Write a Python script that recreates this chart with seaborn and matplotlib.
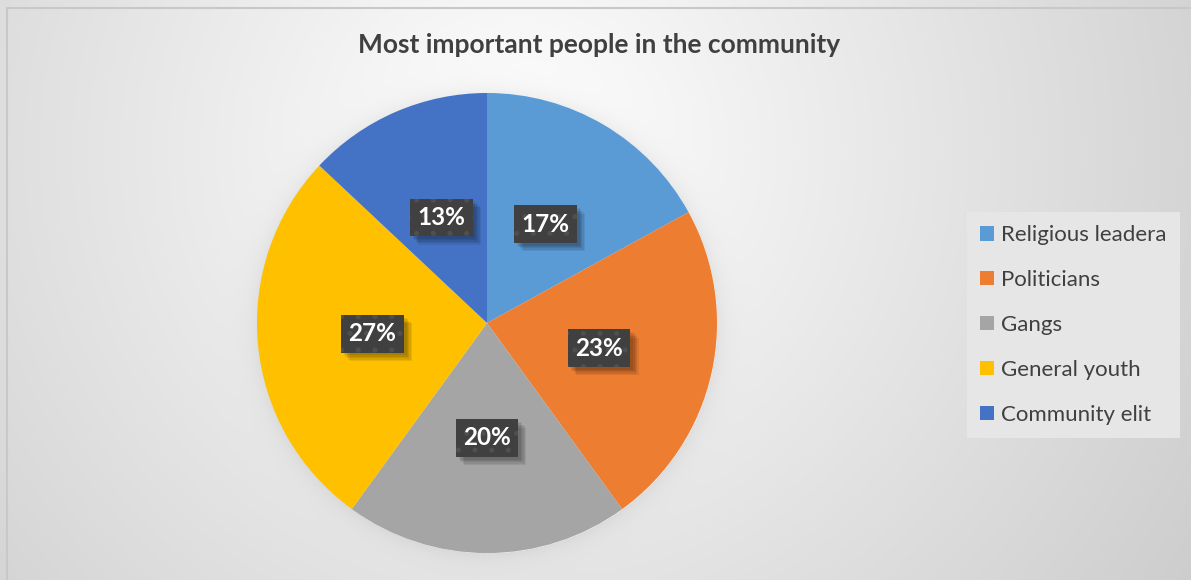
import numpy as np
import matplotlib
matplotlib.use("Agg")
import matplotlib.pyplot as plt
import matplotlib.patheffects as pe
from matplotlib.patches import Patch
import seaborn as sns

# Survey results: who matters most in the community
categories = ["Religious leadera", "Politicians", "Gangs", "General youth", "Community elit"]
shares = [17, 23, 20, 27, 13]
colors = ["#5B9BD5", "#ED7D31", "#A5A5A5", "#FFC000", "#4472C4"]
title = "Most important people in the community"

sns.set_theme(style="white")
plt.rcParams["font.family"] = ["Lato", "DejaVu Sans"]
plt.rcParams["hatch.linewidth"] = 1.3

W, H, DPI = 1191, 580, 100
fig = plt.figure(figsize=(W / DPI, H / DPI), dpi=DPI)

# Pie axes: square, radius 1 spans 230 px
R_PX = 230
span = 1.05
side = 2 * R_PX * span
cx, cy = 487, 323
ax = fig.add_axes([(cx - side / 2) / W, (H - cy - side / 2) / H, side / W, side / H])
ax.set_zorder(2)
ax.patch.set_alpha(0)

label_font = dict(fontsize=17.5, fontweight="bold")
wedges, texts, autotexts = ax.pie(
    shares,
    colors=colors,
    startangle=90,
    counterclock=False,
    autopct=lambda p: f"{p:.0f}%",
    pctdistance=0.5,
    wedgeprops=dict(linewidth=0),
    textprops=dict(color="white", **label_font),
)
ax.set_xlim(-span, span)
ax.set_ylim(-span, span)
ax.set_aspect("equal")

# dark dotted tag behind each percentage, with a soft drop shadow
box_style = "square,pad=0.3"
soft_shadow = [pe.SimplePatchShadow(offset=(o, -o), shadow_rgbFace="#000000", alpha=0.08)
               for o in (6, 5, 4, 3, 2)]
for t in autotexts:
    x, y = t.get_position()
    # invisible copy that only casts the shadow
    sh = ax.text(x, y, t.get_text(), ha="center", va="center", color="none",
                 zorder=t.get_zorder() - 0.1, **label_font)
    sh.set_bbox(dict(boxstyle=box_style, facecolor="#404040", linewidth=0))
    sh.get_bbox_patch().set_path_effects(soft_shadow)
    t.set_bbox(dict(boxstyle=box_style, facecolor="#404040",
                    edgecolor="#4f4f4f", linewidth=0, hatch="."))

# Background: soft radial shading with a faint halo around the pie
fig.canvas.draw()
px, py = ax.transData.transform((0, 0))
pr = ax.transData.transform((1, 0))[0] - px
yy, xx = np.mgrid[0:H, 0:W]
yy_up = H - yy
d = np.hypot(xx - 520, yy - 150)
bg = 1.0 - 0.000245 * d
rp = np.hypot(xx - px, yy_up - py)
halo = np.where(rp > pr, 0.05 * np.exp(-(rp - pr) / 10.0), 0)
bg = np.clip(bg - halo, 0, 1)
bg_ax = fig.add_axes([0, 0, 1, 1])
bg_ax.set_zorder(0)
bg_ax.imshow(np.dstack([bg, bg, bg]), extent=(0, W, 0, H), origin="upper", aspect="auto")
bg_ax.set_xlim(0, W)
bg_ax.set_ylim(0, H)
bg_ax.axis("off")
# chart frame (top and left edges visible)
bg_ax.plot([6.5, 6.5, W + 5], [-5, H - 7.5, H - 7.5], color="#c8c8c8", lw=1.5)

fig.text(599 / W, 1 - 45 / H, title, ha="center", va="center",
         fontsize=19, fontweight="bold", color="#404040", zorder=5)

handles = [Patch(facecolor=c, edgecolor="none") for c in colors]
leg = fig.legend(
    handles, categories,
    loc="upper left", bbox_to_anchor=(967 / W, 1 - 212 / H),
    frameon=True, fancybox=False, facecolor="#e6e6e6", edgecolor="none", framealpha=1,
    fontsize=16, labelcolor="#404040", handlelength=0.6, handleheight=0.6,
    handletextpad=0.35, labelspacing=1.12, borderpad=0.6, borderaxespad=0,
)
leg.set_zorder(5)

fig.savefig("out.png", dpi=DPI)
